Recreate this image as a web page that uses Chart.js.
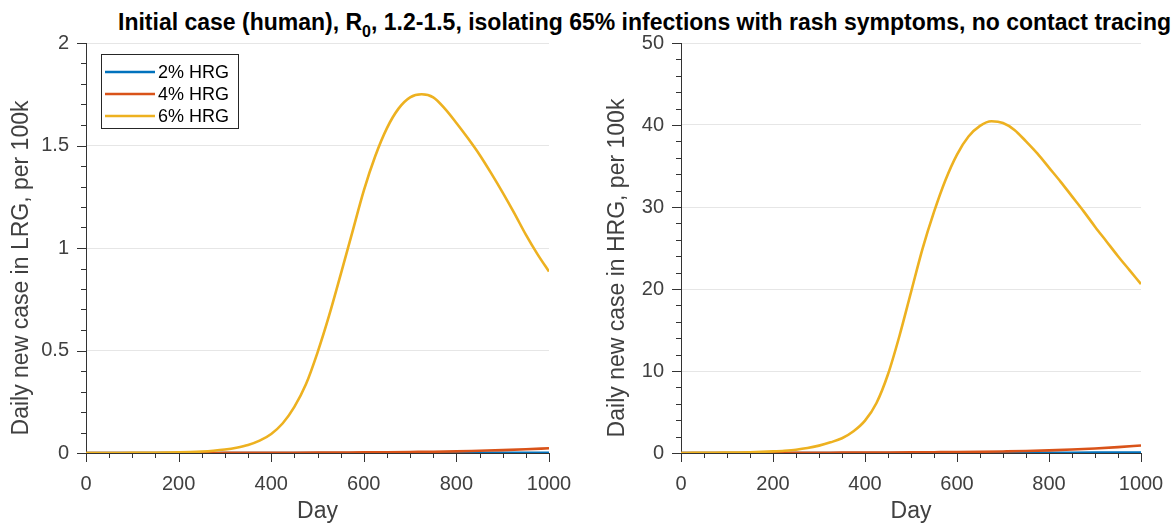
<!DOCTYPE html>
<html>
<head>
<meta charset="utf-8">
<script src="https://cdn.jsdelivr.net/npm/chart.js@4.4.1/dist/chart.umd.min.js"></script>
<style>
  html, body { margin: 0; padding: 0; background: #fff; }
  #wrap { position: relative; width: 1171px; height: 525px; overflow: hidden; }
  #title {
    position: absolute; left: 118px; top: 11px; white-space: nowrap;
    font: bold 23px 'Liberation Sans', Arial, Helvetica, sans-serif; line-height: 22px; color: #000;
  }
  #title sub { font-size: 16px; vertical-align: -7px; line-height: 0; }
  canvas { position: absolute; top: 0; }
  #chartLRG { left: 0; }
  #chartHRG { left: 585px; }
</style>
</head>
<body>
<div id="wrap">
  <div id="title">Initial case (human), R<sub>0</sub>, 1.2-1.5, isolating 65% infections with rash symptoms, no contact tracing</div>
  <canvas id="chartLRG" width="585" height="525"></canvas>
  <canvas id="chartHRG" width="586" height="525"></canvas>
</div>
<script>
// ---- data ----
const seriesNames = ['2% HRG', '4% HRG', '6% HRG'];
const seriesColors = ['#0072BD', '#D95319', '#EDB120'];

// small series, every 50 days
const days50 = [0, 50, 100, 150, 200, 250, 300, 350, 400, 450, 500, 550, 600, 650, 700, 750, 800, 850, 900, 950, 1000];
// 6% series, every 25 days
const days25 = [0, 25, 50, 75, 100, 125, 150, 175, 200, 225, 250, 275, 300, 325, 350, 375, 400, 425, 450, 475, 500,
  525, 550, 575, 600, 625, 650, 675, 700, 725, 750, 775, 800, 825, 850, 875, 900, 925, 950, 975, 1000];

const lrg2 = [0, 0, 0, 0, 0, 0, 0, 0, 0, 0, 0, 0, 0, 0.0001, 0.0001, 0.0002, 0.0003, 0.0004, 0.0005, 0.0007, 0.001];
const lrg4 = [0, 0, 0, 0, 0, 0, 0.0005, 0.001, 0.0012, 0.0015, 0.002, 0.0025, 0.003, 0.004, 0.005, 0.006, 0.008, 0.011, 0.014, 0.018, 0.023];
const lrg6 = [0, 0.0001, 0.0002, 0.0003, 0.0005, 0.0008, 0.0012, 0.002, 0.003, 0.0045, 0.007, 0.011, 0.017, 0.026, 0.039, 0.06, 0.093, 0.145, 0.225, 0.335, 0.49,
  0.67, 0.87, 1.075, 1.28, 1.45, 1.585, 1.68, 1.735, 1.75, 1.735, 1.68, 1.61, 1.535, 1.455, 1.365, 1.27, 1.17, 1.065, 0.97, 0.885];

const hrg2 = [0, 0, 0, 0, 0, 0, 0, 0, 0, 0, 0, 0.002, 0.004, 0.006, 0.01, 0.015, 0.02, 0.03, 0.04, 0.055, 0.07];
const hrg4 = [0, 0, 0.005, 0.01, 0.015, 0.02, 0.03, 0.04, 0.05, 0.065, 0.08, 0.1, 0.12, 0.15, 0.19, 0.24, 0.32, 0.42, 0.55, 0.72, 0.92];
const hrg6 = [0, 0.01, 0.02, 0.03, 0.05, 0.07, 0.1, 0.14, 0.2, 0.28, 0.4, 0.6, 0.9, 1.3, 1.8, 2.65, 3.95, 6.1, 9.6, 14.3, 19.6,
  24.9, 29.4, 33.3, 36.4, 38.6, 39.9, 40.45, 40.25, 39.4, 38.0, 36.5, 34.8, 33.1, 31.3, 29.5, 27.6, 25.8, 24.0, 22.3, 20.6];

const xTicks = [0, 200, 400, 600, 800, 1000];
const xMinorStep = 50;
const yTicksLRG = [0, 0.5, 1, 1.5, 2];
const yMinorStepLRG = 0.1;
const yTicksHRG = [0, 10, 20, 30, 40, 50];
const yMinorStepHRG = 2;

const FONT = "'Liberation Sans', Arial, Helvetica, sans-serif";
const AXIS_COLOR = '#333333';
const TEXT_COLOR = '#404040';

// matlab-ish axes: outward tick marks, rotated y label, optional legend
const matlabAxes = {
  id: 'matlabAxes',
  afterDraw(chart, args, opts) {
    const c = chart.ctx;
    const xs = chart.scales.x, ys = chart.scales.y;
    const area = chart.chartArea;
    c.save();
    c.strokeStyle = AXIS_COLOR;
    c.lineWidth = 1;
    c.beginPath();
    for (let v = xs.min; v <= xs.max + 1e-9; v += opts.xMinor) {
      const px = Math.round(xs.getPixelForValue(v)) + 0.5;
      const len = opts.xMajor.includes(v) ? 9 : 5;
      c.moveTo(px, area.bottom);
      c.lineTo(px, area.bottom + len);
    }
    const nMinor = Math.round((ys.max - ys.min) / opts.yMinor);
    for (let i = 0; i <= nMinor; i++) {
      const v = ys.min + i * opts.yMinor;
      const py = Math.round(ys.getPixelForValue(v)) + 0.5;
      const major = opts.yMajor.some(t => Math.abs(t - v) < 1e-6);
      c.moveTo(area.left, py);
      c.lineTo(area.left - (major ? 9 : 5), py);
    }
    c.stroke();

    // y title
    c.fillStyle = TEXT_COLOR;
    c.font = '23px ' + FONT;
    c.textAlign = 'center';
    c.textBaseline = 'middle';
    c.translate(opts.yTitleX, opts.yTitleY);
    c.rotate(-Math.PI / 2);
    c.fillText(opts.yTitle, 0, 0);
    c.restore();

    if (opts.legend) {
      const lg = opts.legend;
      c.save();
      c.fillStyle = '#fff';
      c.fillRect(lg.x, lg.y, lg.w, lg.h);
      c.strokeStyle = '#262626';
      c.lineWidth = 1;
      c.strokeRect(lg.x + 0.5, lg.y + 0.5, lg.w, lg.h);
      c.font = '18px ' + FONT;
      c.textBaseline = 'middle';
      c.textAlign = 'left';
      seriesNames.forEach((name, i) => {
        const cy = lg.y + 18 + i * 22;
        c.strokeStyle = seriesColors[i];
        c.lineWidth = 2.6;
        c.beginPath();
        c.moveTo(lg.x + 4, cy);
        c.lineTo(lg.x + 54, cy);
        c.stroke();
        c.fillStyle = '#000';
        c.fillText(name, lg.x + 57, cy + 1);
      });
      c.restore();
    }
  }
};

function makePanel(canvasId, series, yMax, yTicks, yMinor, yTitle, layout) {
  const datasets = series.map((s, i) => ({
    label: seriesNames[i],
    data: s.days.map((d, k) => ({ x: d, y: s.vals[k] })),
    borderColor: seriesColors[i],
    backgroundColor: seriesColors[i],
    borderWidth: 2.6,
    pointRadius: 0,
    cubicInterpolationMode: 'monotone',
    fill: false,
    order: series.length - i
  }));

  const chart = new Chart(document.getElementById(canvasId).getContext('2d'), {
    type: 'line',
    data: { datasets },
    options: {
      responsive: false,
      animation: false,
      layout: { padding: { top: 43, right: layout.padRight, left: 0, bottom: 0 } },
      scales: {
        x: {
          type: 'linear',
          min: 0,
          max: 1000,
          // invisible tick marks just push the labels down; real ticks are drawn by the plugin
          grid: { display: true, drawOnChartArea: false, drawTicks: true, tickLength: 16, tickColor: 'rgba(0,0,0,0)' },
          border: { display: true, color: AXIS_COLOR, width: 1 },
          ticks: {
            stepSize: 200,
            autoSkip: false,
            maxRotation: 0,
            padding: 3,
            color: TEXT_COLOR,
            font: { family: FONT, size: 20 },
            callback: v => String(v)
          },
          title: {
            display: true,
            text: 'Day',
            color: TEXT_COLOR,
            font: { family: FONT, size: 23 },
            padding: { top: 2, bottom: 0 }
          },
          afterFit: s => { s.height = 72; }
        },
        y: {
          min: 0,
          max: yMax,
          grid: { color: '#e6e6e6', lineWidth: 1, drawTicks: false },
          border: { display: true, color: AXIS_COLOR, width: 1 },
          ticks: {
            stepSize: yTicks[1] - yTicks[0],
            padding: 17,
            color: TEXT_COLOR,
            font: { family: FONT, size: 20 },
            callback: v => String(v)
          },
          afterFit: s => { s.width = layout.yWidth; }
        }
      },
      plugins: {
        legend: { display: false },
        tooltip: { enabled: false },
        matlabAxes: {
          xMajor: xTicks,
          xMinor: xMinorStep,
          yMajor: yTicks,
          yMinor: yMinor,
          yTitle: yTitle,
          yTitleX: layout.yTitleX,
          yTitleY: 268,
          legend: layout.legend
        }
      }
    },
    plugins: [matlabAxes]
  });

  // nudge the right padding so the plot area ends where the picture's does
  for (let k = 0; k < 4; k++) {
    const dx = chart.scales.x.right - layout.right;
    if (Math.abs(dx) < 0.5) break;
    const p = chart.config.options.layout.padding;
    chart.config.options.layout.padding = Object.assign({}, p, { right: p.right + dx });
    chart.update();
  }
  return chart;
}

makePanel('chartLRG',
  [{ days: days50, vals: lrg2 }, { days: days50, vals: lrg4 }, { days: days25, vals: lrg6 }],
  2, yTicksLRG, yMinorStepLRG, 'Daily new case in LRG, per 100k',
  { padRight: 36, right: 549, yWidth: 86, yTitleX: 22, legend: { x: 101, y: 54, w: 137, h: 74 } });

makePanel('chartHRG',
  [{ days: days50, vals: hrg2 }, { days: days50, vals: hrg4 }, { days: days25, vals: hrg6 }],
  50, yTicksHRG, yMinorStepHRG, 'Daily new case in HRG, per 100k',
  { padRight: 30, right: 556, yWidth: 96, yTitleX: 33, legend: null });
</script>
</body>
</html>
